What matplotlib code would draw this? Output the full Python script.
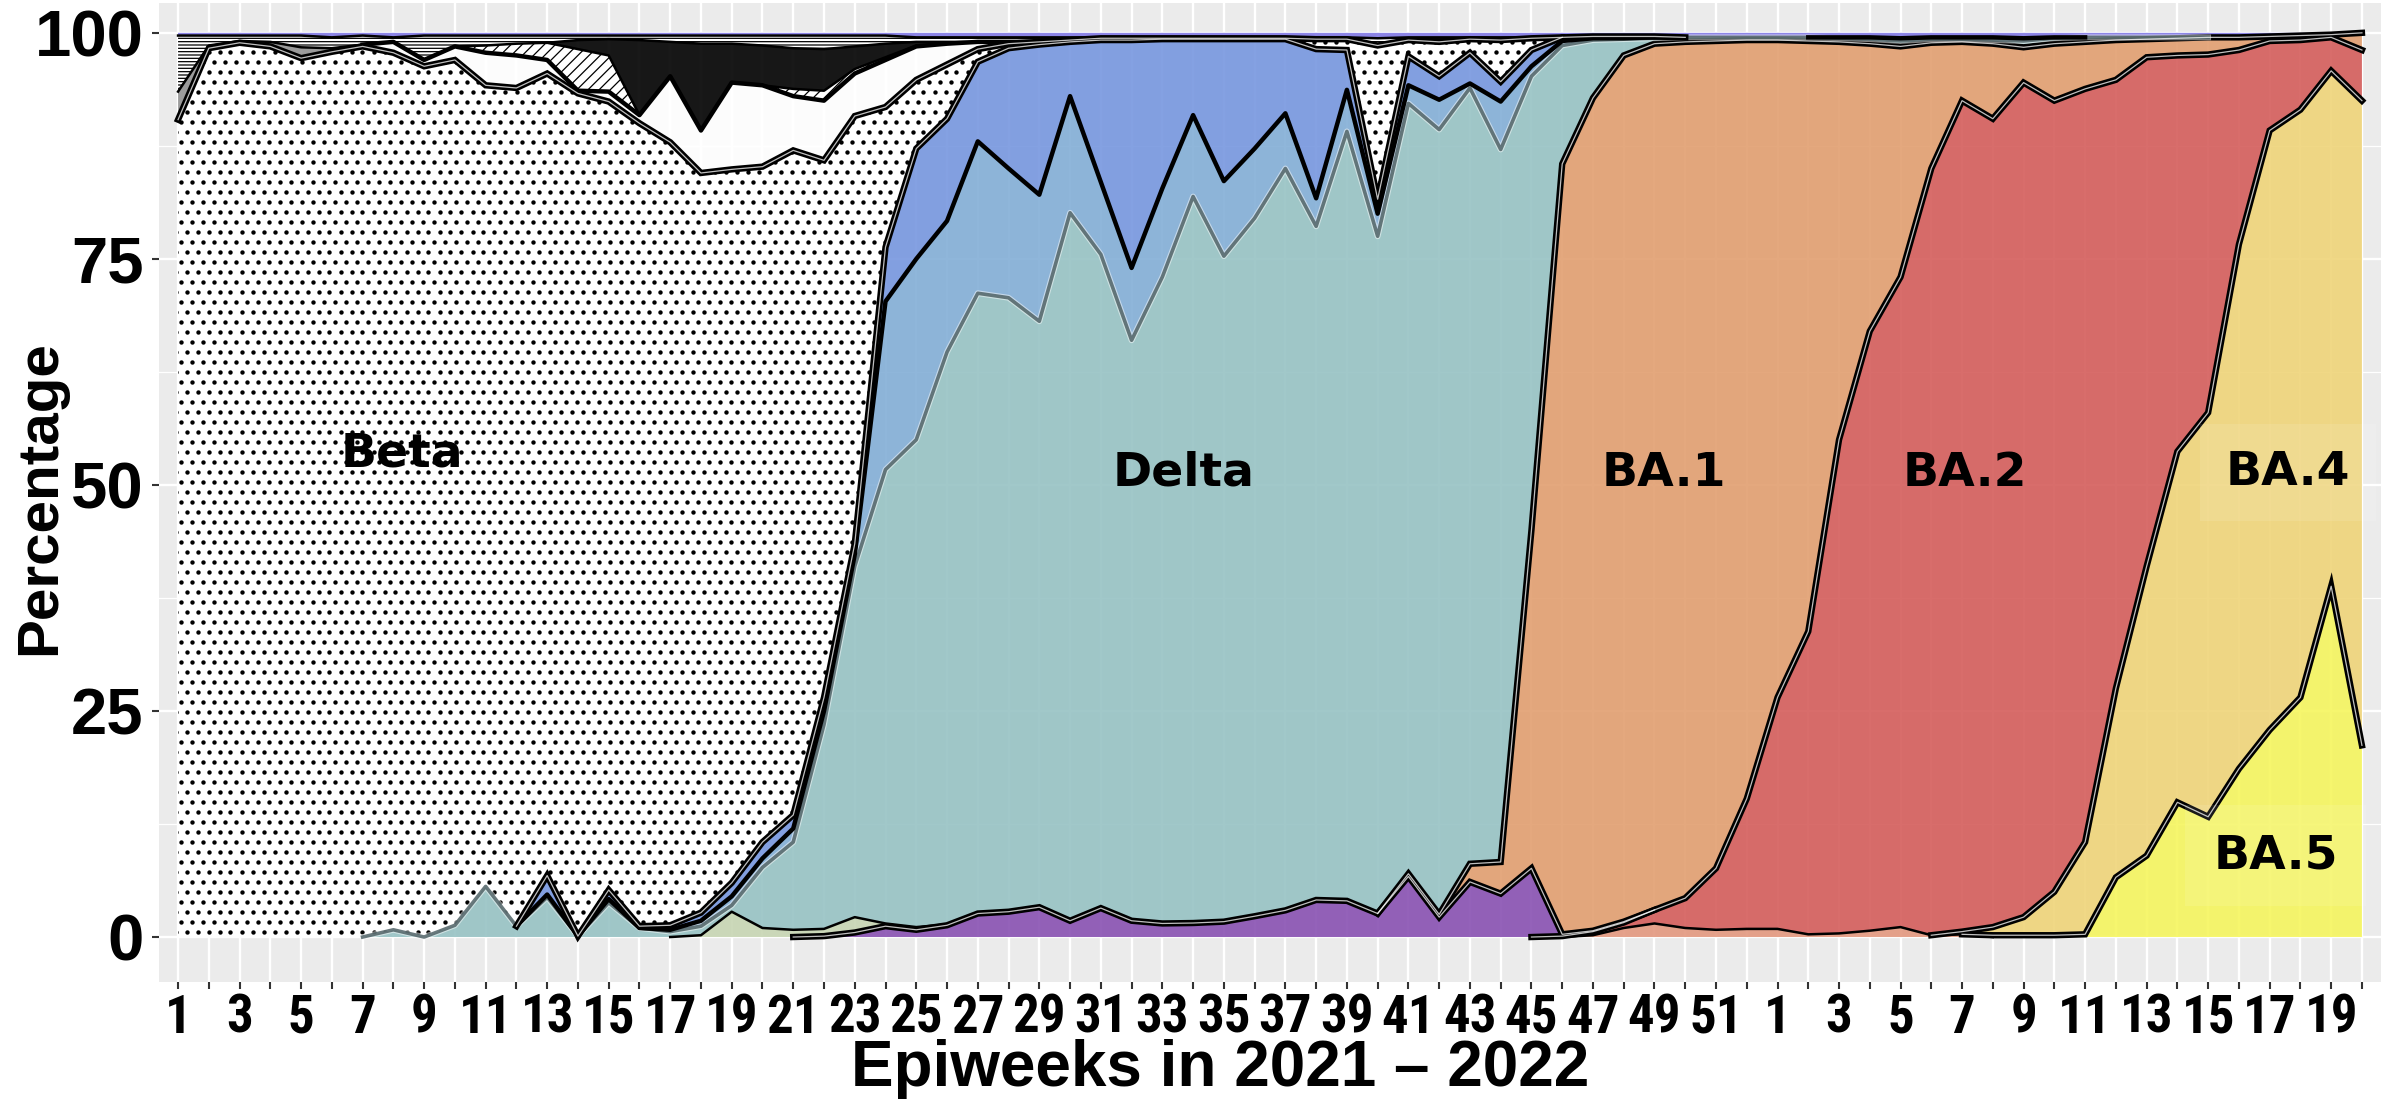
import numpy as np
import matplotlib
matplotlib.use("Agg")
import matplotlib.pyplot as plt
from matplotlib import colors as mcolors
from matplotlib import font_manager

# epiweeks on the x axis: all of 2021, then 2022 up to week 20
weeks_2021 = list(range(1, 53))
weeks_2022 = list(range(1, 21))
week_labels = [str(w) for w in weeks_2021 + weeks_2022]
n = len(week_labels)

# weekly share (%) of each lineage, listed bottom to top of the stack
other_omicron = [0] * 46 + [0.2, 1.0, 1.5, 1.0, 0.8, 0.9, 0.9, 0.3, 0.4, 0.7, 1.1, 0.2, 0.3] + [0] * 13
ba5 = [0] * 59 + [0.2, 0.2, 0.2, 0.3, 6.6, 9.0, 14.9, 13.3, 18.6, 22.9, 26.5, 38.8, 21.2]
ba4 = [0] * 58 + [0.3, 0.9, 2.0, 4.8, 10.2, 20.9, 32.0, 38.8, 44.7, 58.0, 66.3, 65.0, 57.0, 71.3]
ba2 = [0] * 45 + [0.1, 0.4, 0.6, 1.5, 3.3, 6.8, 14.4, 25.6, 33.5, 54.6, 66.3, 71.9, 84.8, 91.9,
                  89.4, 92.3, 87.5, 83.3, 67.3, 56.3, 43.8, 39.6, 21.5, 9.9, 7.7, 3.7, 5.6]
ay_purple = [0] * 21 + [0.1, 0.5, 1.2, 0.8, 1.3, 2.6, 2.8, 3.3, 1.8, 3.2, 1.8, 1.5, 1.55, 1.7,
                        2.3, 2.95, 4.1, 4.0, 2.6, 6.7, 2.2, 6.1, 4.8, 7.6, 0.2, 0.1, 0.1] + [0] * 24
eta = [0] * 17 + [0.2, 2.8, 1.0, 0.8, 0.8, 1.7, 0.3, 0.3, 0.1] + [0] * 46
ba1 = [0] * 40 + [0.3, 0.3, 2.0, 3.5, 37.4, 85.2, 92.1, 95.8, 95.8, 94.7, 91.5, 83.9, 72.7, 65.3,
                  44.0, 31.8, 25.5, 13.9, 6.5, 8.3, 3.9, 6.3, 5.2, 4.4, 2.0, 1.9, 1.9, 1.4, 0.5,
                  0.5, 0.3, 1.9]
delta = [0, 0, 0, 0, 0, 0, 0, 0.8, 0, 1.3, 5.6, 1.2, 4.4, 0.1, 3.8, 1.0, 0.6, 1.0, 0.7, 6.7,
         9.7, 22.6, 38.8, 50.2, 53.9, 63.3, 68.6, 67.9, 64.8, 78.3, 72.3, 64.2, 71.5, 80.35,
         73.6, 77.2, 82.05, 74.5, 85.1, 74.9, 85.2, 86.8, 85.8, 78.8, 50.2, 13.1, 6.4, 1.8,
         0.6, 0.5, 0.4, 0.3, 0.3, 0.4, 0.4, 0.5, 0.6, 0.4, 0.3, 0.4, 0.7, 0.6, 0.5, 0.3, 0.2,
         0.1, 0, 0, 0, 0, 0, 0]
ay_lightblue = [0] * 12 + [0.3, 0, 0.4, 0, 0.2, 0.6, 1.0, 1.0, 1.5, 1.5, 1.3, 18.6, 20.0, 14.5,
                           16.8, 14.3, 14.0, 12.9, 8.0, 8.0, 9.8, 9.0, 8.3, 7.7, 6.1, 3.1, 4.6,
                           2.5, 2.0, 3.3, 0.5, 5.3, 1.1, 0.5, 0.2, 0.1, 0.1, 0, 0, 0, 0, 0, 0.1,
                           0.2, 0.3, 0.2, 0.2, 0.3, 0.3, 0.1] + [0] * 10
ay_blue = [0] * 12 + [2.1, 0, 1.0, 0.2, 0.5, 0.9, 1.5, 1.8, 1.5, 1.5, 1.2, 6.0, 12.2, 11.3, 8.8,
                      13.3, 16.6, 6.0, 15.7, 25.2, 16.5, 8.4, 15.7, 12.1, 8.2, 16.5, 4.4, 1.6,
                      3.2, 2.6, 3.4, 2.2, 1.8, 0.4, 0.2, 0.2, 0.1] + [0] * 23
beta = [90.4, 98.3, 98.9, 98.5, 97.2, 97.9, 98.5, 97.0, 96.3, 95.7, 88.6, 92.7, 88.7, 93.2,
        87.2, 88.8, 86.6, 81.8, 78.9, 74.7, 73.5, 59.4, 47.3, 15.5, 7.6, 6.0, 1.4, 0.5, 0.3,
        0.2, 0.2, 0.2, 0.1, 0.1, 0.1, 0.1, 0.1, 1.1, 1.2, 17.0, 1.8, 3.8, 1.5, 4.6, 1.3] + [0] * 27
unassigned = [3.1, 0.3, 0.2, 0.5, 1.2, 0.4, 0.2] + [0] * 65
alpha_var = [0] * 7 + [1.2, 0.7, 1.5, 3.6, 3.6, 1.5, 0.3, 1.1, 0.9, 7.3, 4.7, 9.6, 9.0, 6.0, 6.6,
                       4.7, 5.2, 3.7, 2.3, 0.8, 0.2] + [0] * 44
c12 = [0] * 10 + [0.8, 1.3, 1.9, 4.6, 4.0, 0, 0, 0, 0, 0, 0.8, 1.1, 0.5, 0.3, 0.1] + [0] * 47
other = [0] * 13 + [1.0, 1.8, 8.3, 3.8, 9.6, 4.3, 4.4, 4.5, 4.6, 2.5, 1.5, 0.4, 0.2] + [0] * 46
b11 = [6.2, 1.1, 0.6, 0.7, 1.3, 1.2, 1.0, 0.5, 2.7, 1.2, 1.1, 0.9, 0.8, 0.5, 0.4, 0.5, 0.7, 0.9,
       0.9, 1.1, 1.4, 1.5, 1.2, 0.9, 0.5, 0.5, 0.5, 0.5, 0.5, 0.3, 0.1, 0.1, 0.1, 0.1, 0.1, 0.1,
       0.1, 0.2, 0.2, 0.8, 0.3, 0.5, 0.2, 0.3, 0.1] + [0] * 27
minor_top = [0.3, 0.3, 0.3, 0.3, 0.3, 0.5, 0.3, 0.5] + [0.3] * 16 + [0.5] * 15 + [0.6] + [0.5] * 5 + \
            [0.5, 0.4, 0.4, 0.4, 0.5, 0.5, 0.5, 0.5, 0.5, 0.5, 0.5, 0.6, 0.5, 0.5, 0.5, 0.6,
             0.5, 0.5, 0.5, 0.5, 0.5, 0.5, 0.5, 0.4, 0.3, 0.2, 0]

# (values, face colour, fill style, edge style)
layers = [
    (other_omicron, '#E4A08A', 'solid', 'thin'),
    (ba5, '#F4F46C', 'solid', 'double'),
    (ba4, '#EFD684', 'solid', 'double'),
    (ba2, '#D66B69', 'solid', 'double'),
    (ay_purple, '#9260B8', 'solid', 'double'),
    (eta, '#CBD7B9', 'solid', 'thin'),
    (ba1, '#E2A77C', 'solid', 'double'),
    (delta, '#9FC6C8', 'solid', 'grey'),
    (ay_lightblue, '#8DB4D8', 'solid', 'black'),
    (ay_blue, '#839FE0', 'solid', 'double'),
    (beta, '#FFFFFF', 'dots', 'double'),
    (unassigned, '#9C9C9C', 'solid', 'thin'),
    (alpha_var, '#FFFFFF', 'solid', 'black'),
    (c12, '#FFFFFF', '///', 'thin'),
    (other, '#000000', 'solid', 'thin'),
    (b11, '#FFFFFF', '-----', 'thin'),
    (minor_top, '#8C84E6', 'solid', None),
]

panel_bg = '#EBEBEB'
fill_alpha = 0.9


def under_alpha(colour, a=fill_alpha, bg=panel_bg):
    # colour to paint at alpha a so it shows as `colour` over the panel
    c = np.array(mcolors.to_rgb(colour))
    b = np.array(mcolors.to_rgb(bg))
    return tuple(np.clip((c - (1 - a) * b) / a, 0, 1))


def condensed_bold():
    # a bold narrow/condensed face, if one is installed
    prefs = ['liberation sans narrow', 'roboto condensed', 'noto sans', 'open sans',
             'dejavu sans']
    found = []
    for f in font_manager.fontManager.ttflist:
        fn = f.fname.lower().replace('-', '').replace('_', '')
        nm = f.name.lower()
        st = str(f.stretch).lower()
        narrow = ('narrow' in fn or 'condensed' in fn or 'narrow' in nm or 'condensed' in nm
                  or st in ('condensed', '300', '75'))
        if not narrow or f.style != 'normal' or 'italic' in fn:
            continue
        if 'extra' in fn or 'ultra' in fn or 'semi' in fn:
            continue
        wt = f.weight if isinstance(f.weight, int) else font_manager.weight_dict.get(f.weight, 400)
        if wt < 600 or wt > 750:
            continue
        rank = next((i for i, p in enumerate(prefs) if nm.startswith(p)), len(prefs))
        found.append((rank, f.fname))
    if not found:
        return None
    found.sort()
    return font_manager.FontProperties(fname=found[0][1])


narrow_fp = condensed_bold()
title_font = 'Liberation Sans'
plt.rcParams['hatch.color'] = 'black'
plt.rcParams['hatch.linewidth'] = 0.9

W, H = 2387, 1099
fig = plt.figure(figsize=(W / 100, H / 100), dpi=100)
ax_l, ax_r, ax_t, ax_b = 159, 2381, 3, 981.7
ax = fig.add_axes([ax_l / W, 1 - ax_b / H, (ax_r - ax_l) / W, (ax_b - ax_t) / H])
ax.set_facecolor(panel_bg)
x = np.arange(n)
x0, x1 = -0.62, 71.62
y0, y1 = -4.94, 103.3
ax.set_xlim(x0, x1)
ax.set_ylim(y0, y1)

ax.set_xticks(x)
ax.set_xticklabels([lab if k % 2 == 0 else '' for k, lab in enumerate(week_labels)])
ax.set_yticks([0, 25, 50, 75, 100])
ax.set_yticks([12.5, 37.5, 62.5, 87.5], minor=True)
ax.grid(which='major', color='white', linewidth=1.7)
ax.grid(which='minor', axis='y', color='white', linewidth=0.9)
ax.set_axisbelow(True)
for sp in ax.spines.values():
    sp.set_visible(False)
ax.tick_params(axis='both', which='major', length=5, width=1.5, color='#333333')
ax.tick_params(axis='x', pad=3)
ax.tick_params(axis='y', pad=6)
ax.tick_params(axis='y', which='minor', length=0)
for lab in ax.get_xticklabels():
    if narrow_fp is not None:
        lab.set_fontproperties(narrow_fp)
        lab.set_fontsize(38)
    else:
        lab.set_fontfamily(title_font)
        lab.set_fontweight('bold')
        lab.set_fontsize(31)
for lab in ax.get_yticklabels():
    lab.set_fontfamily(title_font)
    lab.set_fontweight('bold')
    lab.set_fontsize(47)

shares = np.array([np.asarray(v, dtype=float) for v, *_ in layers])
cum = np.vstack([np.zeros(n), np.cumsum(shares, axis=0)])

polys = []
for k, (vals, colour, style, _) in enumerate(layers):
    lo, hi = cum[k], cum[k + 1]
    if style == 'solid':
        p = ax.fill_between(x, lo, hi, facecolor=under_alpha(colour), alpha=fill_alpha,
                            linewidth=0, zorder=2)
    elif style == 'dots':
        p = ax.fill_between(x, lo, hi, facecolor='white', linewidth=0, zorder=2)
    else:
        p = ax.fill_between(x, lo, hi, facecolor='white', edgecolor='black', hatch=style,
                            linewidth=0, zorder=2)
    polys.append(p)

# dotted texture for Beta, clipped to its band
px_per_x = (ax_r - ax_l) / (x1 - x0)
px_per_y = (ax_b - ax_t) / (y1 - y0)
dx, dy = 11.0 / px_per_x, 10.0 / px_per_y
rows = np.arange(y0, y1, dy)
gx, gy = [], []
for r, yy in enumerate(rows):
    cols = np.arange(x0 + (dx / 2 if r % 2 else 0), x1, dx)
    gx.append(cols)
    gy.append(np.full_like(cols, yy))
gx, gy = np.concatenate(gx), np.concatenate(gy)
beta_idx = [k for k, l in enumerate(layers) if l[2] == 'dots'][0]
dots = ax.scatter(gx, gy, s=10, c='black', linewidths=0, zorder=3)
dots.set_clip_path(polys[beta_idx].get_paths()[0], ax.transData)

# outlines along the top of each band
for k, (vals, colour, style, edge) in enumerate(layers):
    if edge is None:
        continue
    v = np.asarray(vals, dtype=float)
    live = v > 0
    keep = live | np.r_[live[1:], False] | np.r_[False, live[:-1]]
    top = np.ma.masked_where(~keep, cum[k + 1])
    if edge == 'double':
        ax.plot(x, top, color='black', lw=4.6, zorder=5, solid_joinstyle='miter')
        ax.plot(x, top, color='white', lw=0.9, alpha=0.75, zorder=6)
    elif edge == 'black':
        ax.plot(x, top, color='black', lw=3.2, zorder=5)
    elif edge == 'grey':
        ax.plot(x, top, color='white', lw=4.2, alpha=0.5, zorder=5)
        ax.plot(x, top, color='#4F6266', lw=2.6, alpha=0.85, zorder=5)
    else:
        ax.plot(x, top, color='black', lw=1.8, zorder=5)

# lineage names inside the bands
lab_kw = dict(fontfamily='DejaVu Sans', fontweight='bold', fontsize=34, color='black',
              ha='center', va='center', zorder=8)
ax.text(7.27, 53.4, 'Beta', **lab_kw)
ax.text(32.7, 51.3, 'Delta', **lab_kw)
ax.text(48.3, 51.3, 'BA.1', **lab_kw)
ax.text(58.1, 51.3, 'BA.2', **lab_kw)
ax.text(68.6, 51.4, 'BA.4', bbox=dict(boxstyle='square,pad=0.55', facecolor='white',
                                      alpha=0.1, edgecolor='none'), **lab_kw)
ax.text(68.2, 9.0, 'BA.5', bbox=dict(boxstyle='square,pad=0.6', facecolor='white',
                                     alpha=0.1, edgecolor='none'), **lab_kw)

fig.text(1220 / W, 1 - 1069 / H, 'Epiweeks in 2021 \u2013 2022', fontfamily=title_font,
         fontweight='bold', fontsize=46, ha='center', va='center')
fig.text(40 / W, 1 - 498 / H, 'Percentage', rotation=90, ha='center', va='center',
         fontfamily=title_font, fontweight='bold', fontsize=42)

fig.savefig('out.png', dpi=100, facecolor='white')
